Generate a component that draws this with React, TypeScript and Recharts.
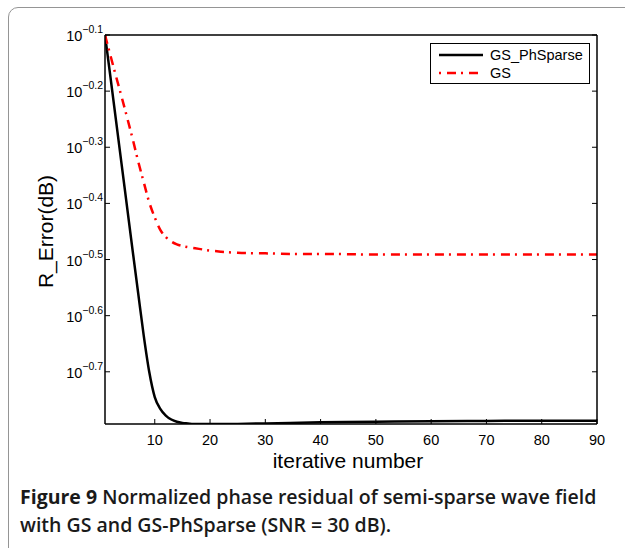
import { LineChart, Line, XAxis, YAxis, Legend } from 'recharts'

const AXIS_FONT = '"Liberation Sans", Arial, Helvetica, sans-serif'

const xTicks = [10, 20, 30, 40, 50, 60, 70, 80, 90]
// exponents of the log ticks (10^-0.1 ... 10^-0.7)
const yTicks = [-0.1, -0.2, -0.3, -0.4, -0.5, -0.6, -0.7]
const yDomain = [-0.793, -0.1]

// log10(R_Error) per iteration
const phSparseIter = [1, 2, 3, 4, 5, 6, 7, 8, 9, 10, 11, 12, 13, 14, 15, 16, 17, 18, 20, 22, 25, 30, 40, 50, 60, 70, 80, 90]
const phSparseLog = [-0.1, -0.176, -0.253, -0.33, -0.407, -0.484, -0.56, -0.635, -0.7, -0.745, -0.766, -0.778, -0.785, -0.789, -0.791, -0.792, -0.793, -0.793, -0.793, -0.793, -0.7928, -0.792, -0.79, -0.789, -0.788, -0.7875, -0.787, -0.787]

const gsIter = [1, 2, 3, 4, 5, 6, 7, 8, 9, 10, 11, 12, 13, 14, 15, 16, 18, 20, 22, 25, 30, 35, 40, 50, 60, 70, 80, 90]
const gsLog = [-0.1, -0.137, -0.174, -0.21, -0.247, -0.285, -0.325, -0.362, -0.398, -0.425, -0.447, -0.46, -0.468, -0.473, -0.476, -0.478, -0.481, -0.484, -0.486, -0.488, -0.489, -0.49, -0.49, -0.491, -0.491, -0.491, -0.491, -0.491]

const phSparseData = phSparseIter.map((it, i) => ({ it, v: phSparseLog[i] }))
const gsData = gsIter.map((it, i) => ({ it, v: gsLog[i] }))

const RED_DASH = '9 5 2 6'

function fmtExp(v: number) {
  return v.toFixed(1).replace('-', '\u2212')
}

function BottomTick(props: any) {
  const { x, y, payload } = props
  return (
    <g>
      <line x1={x} x2={x} y1={y} y2={y - 5} stroke="#000" strokeWidth={1} />
      <text x={x} y={y + 21} textAnchor="middle" fontSize={14.5} fontFamily={AXIS_FONT} fill="#000">{payload.value}</text>
    </g>
  )
}

function TopTick(props: any) {
  const { x, y } = props
  return <line x1={x} x2={x} y1={y} y2={y + 5} stroke="#000" strokeWidth={1} />
}

function LeftTick(props: any) {
  const { x, y, payload } = props
  return (
    <g>
      <line x1={x} x2={x + 5} y1={y} y2={y} stroke="#000" strokeWidth={1} />
      <text x={x - 2} y={y + 6} textAnchor="end" fontSize={14.5} fontFamily={AXIS_FONT} fill="#000">
        10<tspan dy={-8} fontSize={10.5}>{fmtExp(payload.value)}</tspan>
      </text>
    </g>
  )
}

function RightTick(props: any) {
  const { x, y } = props
  return <line x1={x} x2={x - 5} y1={y} y2={y} stroke="#000" strokeWidth={1} />
}

function LegendBox() {
  const row = { display: 'flex', alignItems: 'center', height: 18 }
  return (
    <div style={{ border: '1.5px solid #000', background: '#fff', width: 160, height: 41, boxSizing: 'border-box', padding: '2px 0 0 8px', fontFamily: AXIS_FONT, fontSize: 14.5, color: '#000', lineHeight: '18px' }}>
      <div style={row}>
        <svg width={44} height={18} style={{ marginRight: 7 }}>
          <line x1={0} x2={44} y1={9} y2={9} stroke="#000" strokeWidth={2.5} />
        </svg>
        <span>GS_PhSparse</span>
      </div>
      <div style={row}>
        <svg width={44} height={18} style={{ marginRight: 7 }}>
          <line x1={0} x2={44} y1={9} y2={9} stroke="#ff0000" strokeWidth={2.5} strokeDasharray="2 6 9 5" />
        </svg>
        <span>GS</span>
      </div>
    </div>
  )
}

export default function App() {
  return (
    <div style={{ position: 'absolute', left: 0, top: 0, width: 625, height: 548, overflow: 'hidden', background: '#fff' }}>
      <div style={{ position: 'absolute', left: 8, top: 7, width: 660, height: 560, border: '1.5px solid #959595', borderRadius: 10, boxSizing: 'border-box' }} />
      <div style={{ position: 'absolute', left: 0, top: 0 }}>
        <LineChart width={625} height={480} margin={{ top: 34, right: 27, bottom: 10, left: 0 }}>
          <XAxis
            dataKey="it"
            type="number"
            domain={[1, 90]}
            ticks={xTicks}
            allowDataOverflow
            height={46}
            tickSize={0}
            tickMargin={0}
            tick={<BottomTick />}
            tickLine={false}
            axisLine={{ stroke: '#000', strokeWidth: 1.5 }}
            label={{
              content: (p: any) => (
                <text x={p.viewBox.x + p.viewBox.width / 2 - 3} y={p.viewBox.y + 44} textAnchor="middle" fontSize={21} fontFamily={AXIS_FONT} fill="#000">iterative number</text>
              ),
            }}
          />
          <XAxis
            xAxisId="top"
            orientation="top"
            type="number"
            domain={[1, 90]}
            ticks={xTicks}
            allowDataOverflow
            height={1}
            tickSize={0}
            tickMargin={0}
            tick={<TopTick />}
            tickLine={false}
            axisLine={{ stroke: '#000', strokeWidth: 1.5 }}
          />
          <YAxis
            type="number"
            domain={yDomain}
            ticks={yTicks}
            allowDataOverflow
            width={105}
            tickSize={0}
            tickMargin={0}
            tick={<LeftTick />}
            tickLine={false}
            axisLine={{ stroke: '#000', strokeWidth: 1.5 }}
            label={{
              content: (p: any) => {
                const cx = 53
                const cy = p.viewBox.y + p.viewBox.height / 2 + 2
                return (
                  <text x={cx} y={cy} transform={`rotate(-90 ${cx} ${cy})`} textAnchor="middle" fontSize={21} fontFamily={AXIS_FONT} fill="#000">R_Error(dB)</text>
                )
              },
            }}
          />
          <YAxis
            yAxisId="right"
            orientation="right"
            type="number"
            domain={yDomain}
            ticks={yTicks}
            allowDataOverflow
            width={1}
            tickSize={0}
            tickMargin={0}
            tick={<RightTick />}
            tickLine={false}
            axisLine={{ stroke: '#000', strokeWidth: 1.5 }}
          />
          <Legend
            layout="horizontal"
            verticalAlign="middle"
            align="center"
            wrapperStyle={{ top: 43, left: 430, width: 160, height: 41 }}
            content={() => <LegendBox />}
          />
          <Line data={phSparseData} dataKey="v" name="GS_PhSparse" type="monotone" stroke="#000" strokeWidth={2.5} dot={false} isAnimationActive={false} />
          <Line data={gsData} dataKey="v" name="GS" type="monotone" stroke="#ff0000" strokeWidth={2.5} strokeDasharray={RED_DASH} dot={false} isAnimationActive={false} />
        </LineChart>
      </div>
      <div style={{ position: 'absolute', left: 20, top: 483, width: 610, whiteSpace: 'nowrap', fontFamily: '"Open Sans", "Noto Sans", sans-serif', fontWeight: 600, fontSize: 19.5, letterSpacing: 0, lineHeight: '28px', color: '#1a1a1a' }}>
        <div><span style={{ fontWeight: 700 }}>Figure 9</span> Normalized phase residual of semi-sparse wave field</div>
        <div>with GS and GS-PhSparse (SNR = 30 dB).</div>
      </div>
    </div>
  )
}
